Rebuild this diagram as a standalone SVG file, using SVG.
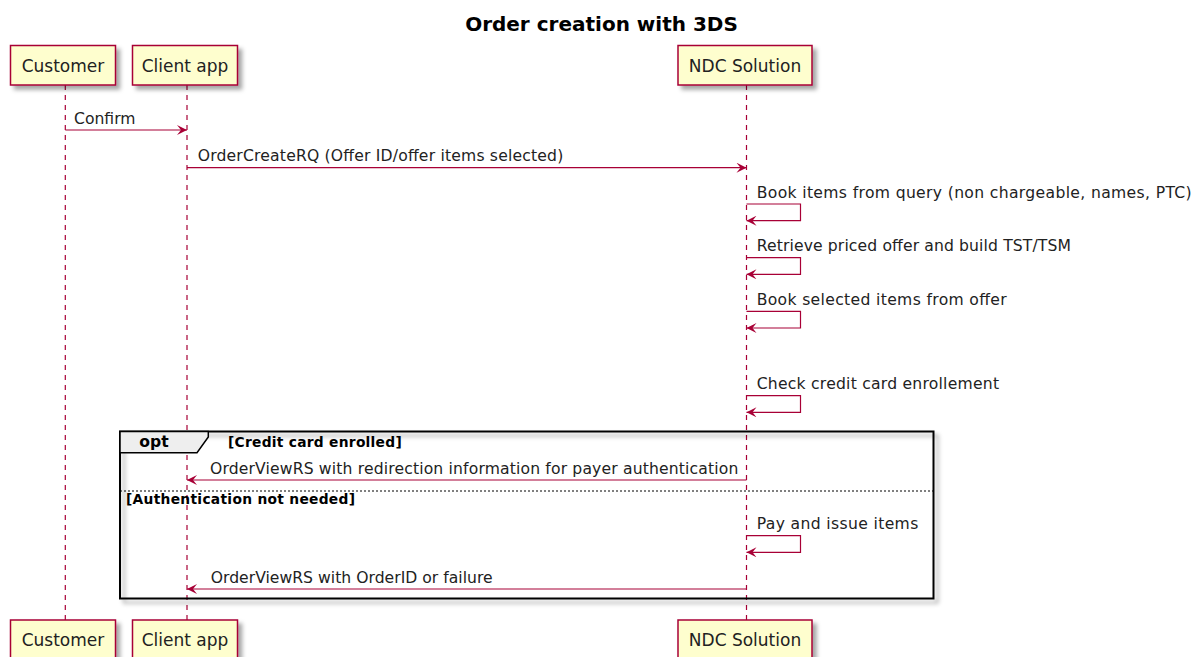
<svg xmlns="http://www.w3.org/2000/svg" width="1202" height="657" viewBox="0 0 1202 657">
<style>
text{font-family:"DejaVu Sans","Liberation Sans",sans-serif;fill:#000}
.p rect{fill:#FEFECE;stroke:#A80036;stroke-width:1.5}
.p text{font-size:17px;text-anchor:middle;fill:#222}
.life{stroke:#A80036;stroke-width:1.2;stroke-dasharray:5,5}
.msg{stroke:#A80036;stroke-width:1.2;fill:none}
.lbl{font-size:15.6px;fill:#222}
.g{font-size:13.8px;font-weight:bold}
</style>
<defs>
<filter id="sh" x="-10%" y="-10%" width="130%" height="140%">
<feDropShadow dx="4" dy="4" stdDeviation="2" flood-color="#000" flood-opacity="0.35"/>
</filter>
<marker id="ah" markerWidth="12" markerHeight="10" refX="11" refY="5" orient="auto" markerUnits="userSpaceOnUse">
<polygon points="1,0 11,5 1,10 5,5" fill="#A80036"/>
</marker>
</defs>
<rect width="1202" height="657" fill="#fff"/>
<text x="601.5" y="31" font-size="20" font-weight="bold" text-anchor="middle" fill="#111">Order creation with 3DS</text>

<g id="lifelines">
<line class="life" x1="65.3" y1="85" x2="65.3" y2="620"/>
<line class="life" x1="187" y1="85" x2="187" y2="620"/>
<line class="life" x1="746.5" y1="85" x2="746.5" y2="620"/>
</g>

<g id="opt-frame">
<rect x="120" y="431.5" width="813.5" height="167" fill="none" stroke="#000" stroke-width="2" filter="url(#sh)"/>
<polygon points="120,431.5 208.3,431.5 208.3,437 197,452.7 120,452.7" fill="#EEEEEE" stroke="#000" stroke-width="1.5"/>
<text x="154" y="447" font-size="15.6" font-weight="bold" text-anchor="middle">opt</text>
<text class="g" x="228" y="446.5" textLength="173.7" lengthAdjust="spacing">[Credit card enrolled]</text>
<line x1="120" y1="491" x2="933.5" y2="491" stroke="#000" stroke-width="1" stroke-dasharray="2,2"/>
<text class="g" x="126" y="503.5" textLength="229" lengthAdjust="spacing">[Authentication not needed]</text>
</g>

<g id="Customer" class="p">
<rect x="10.5" y="45.5" width="105" height="39.5" filter="url(#sh)"/>
<text x="63" y="71.5">Customer</text>
<rect x="10.5" y="620" width="105" height="39.5" filter="url(#sh)"/>
<text x="63" y="646">Customer</text>
</g>
<g id="ClientApp" class="p">
<rect x="132.5" y="45.5" width="105" height="39.5" filter="url(#sh)"/>
<text x="185" y="71.5">Client app</text>
<rect x="132.5" y="620" width="105" height="39.5" filter="url(#sh)"/>
<text x="185" y="646">Client app</text>
</g>
<g id="NDCSolution" class="p">
<rect x="678" y="45.5" width="134" height="39.5" filter="url(#sh)"/>
<text x="745" y="71.5">NDC Solution</text>
<rect x="678" y="620" width="134" height="39.5" filter="url(#sh)"/>
<text x="745" y="646">NDC Solution</text>
</g>

<g id="connectors">
<line class="msg" x1="65.3" y1="130" x2="187" y2="130" marker-end="url(#ah)"/>
<text class="lbl" x="74" y="123.5">Confirm</text>

<line class="msg" x1="187" y1="167.7" x2="746.5" y2="167.7" marker-end="url(#ah)"/>
<text class="lbl" x="197.7" y="161" textLength="365.6" lengthAdjust="spacing">OrderCreateRQ (Offer ID/offer items selected)</text>

<polyline class="msg" points="746.5,204 800.5,204 800.5,220.7 746.5,220.7" marker-end="url(#ah)"/>
<text class="lbl" x="756.7" y="197.5" textLength="435" lengthAdjust="spacing">Book items from query (non chargeable, names, PTC)</text>

<polyline class="msg" points="746.5,257.7 800.5,257.7 800.5,274.3 746.5,274.3" marker-end="url(#ah)"/>
<text class="lbl" x="756.7" y="251.3" textLength="314.3" lengthAdjust="spacing">Retrieve priced offer and build TST/TSM</text>

<polyline class="msg" points="746.5,311.4 800.5,311.4 800.5,328 746.5,328" marker-end="url(#ah)"/>
<text class="lbl" x="756.7" y="305" textLength="250" lengthAdjust="spacing">Book selected items from offer</text>

<polyline class="msg" points="746.5,395.7 800.5,395.7 800.5,412.3 746.5,412.3" marker-end="url(#ah)"/>
<text class="lbl" x="756.7" y="389.3" textLength="242.3" lengthAdjust="spacing">Check credit card enrollement</text>

<line class="msg" x1="746.5" y1="480" x2="187" y2="480" marker-end="url(#ah)"/>
<text class="lbl" x="210" y="473.5" textLength="528.3" lengthAdjust="spacing">OrderViewRS with redirection information for payer authentication</text>

<polyline class="msg" points="746.5,535.7 800.5,535.7 800.5,552.3 746.5,552.3" marker-end="url(#ah)"/>
<text class="lbl" x="756.7" y="528.5" textLength="161.6" lengthAdjust="spacing">Pay and issue items</text>

<line class="msg" x1="746.5" y1="589" x2="187" y2="589" marker-end="url(#ah)"/>
<text class="lbl" x="210.7" y="582.5" textLength="282" lengthAdjust="spacing">OrderViewRS with OrderID or failure</text>
</g>
</svg>
